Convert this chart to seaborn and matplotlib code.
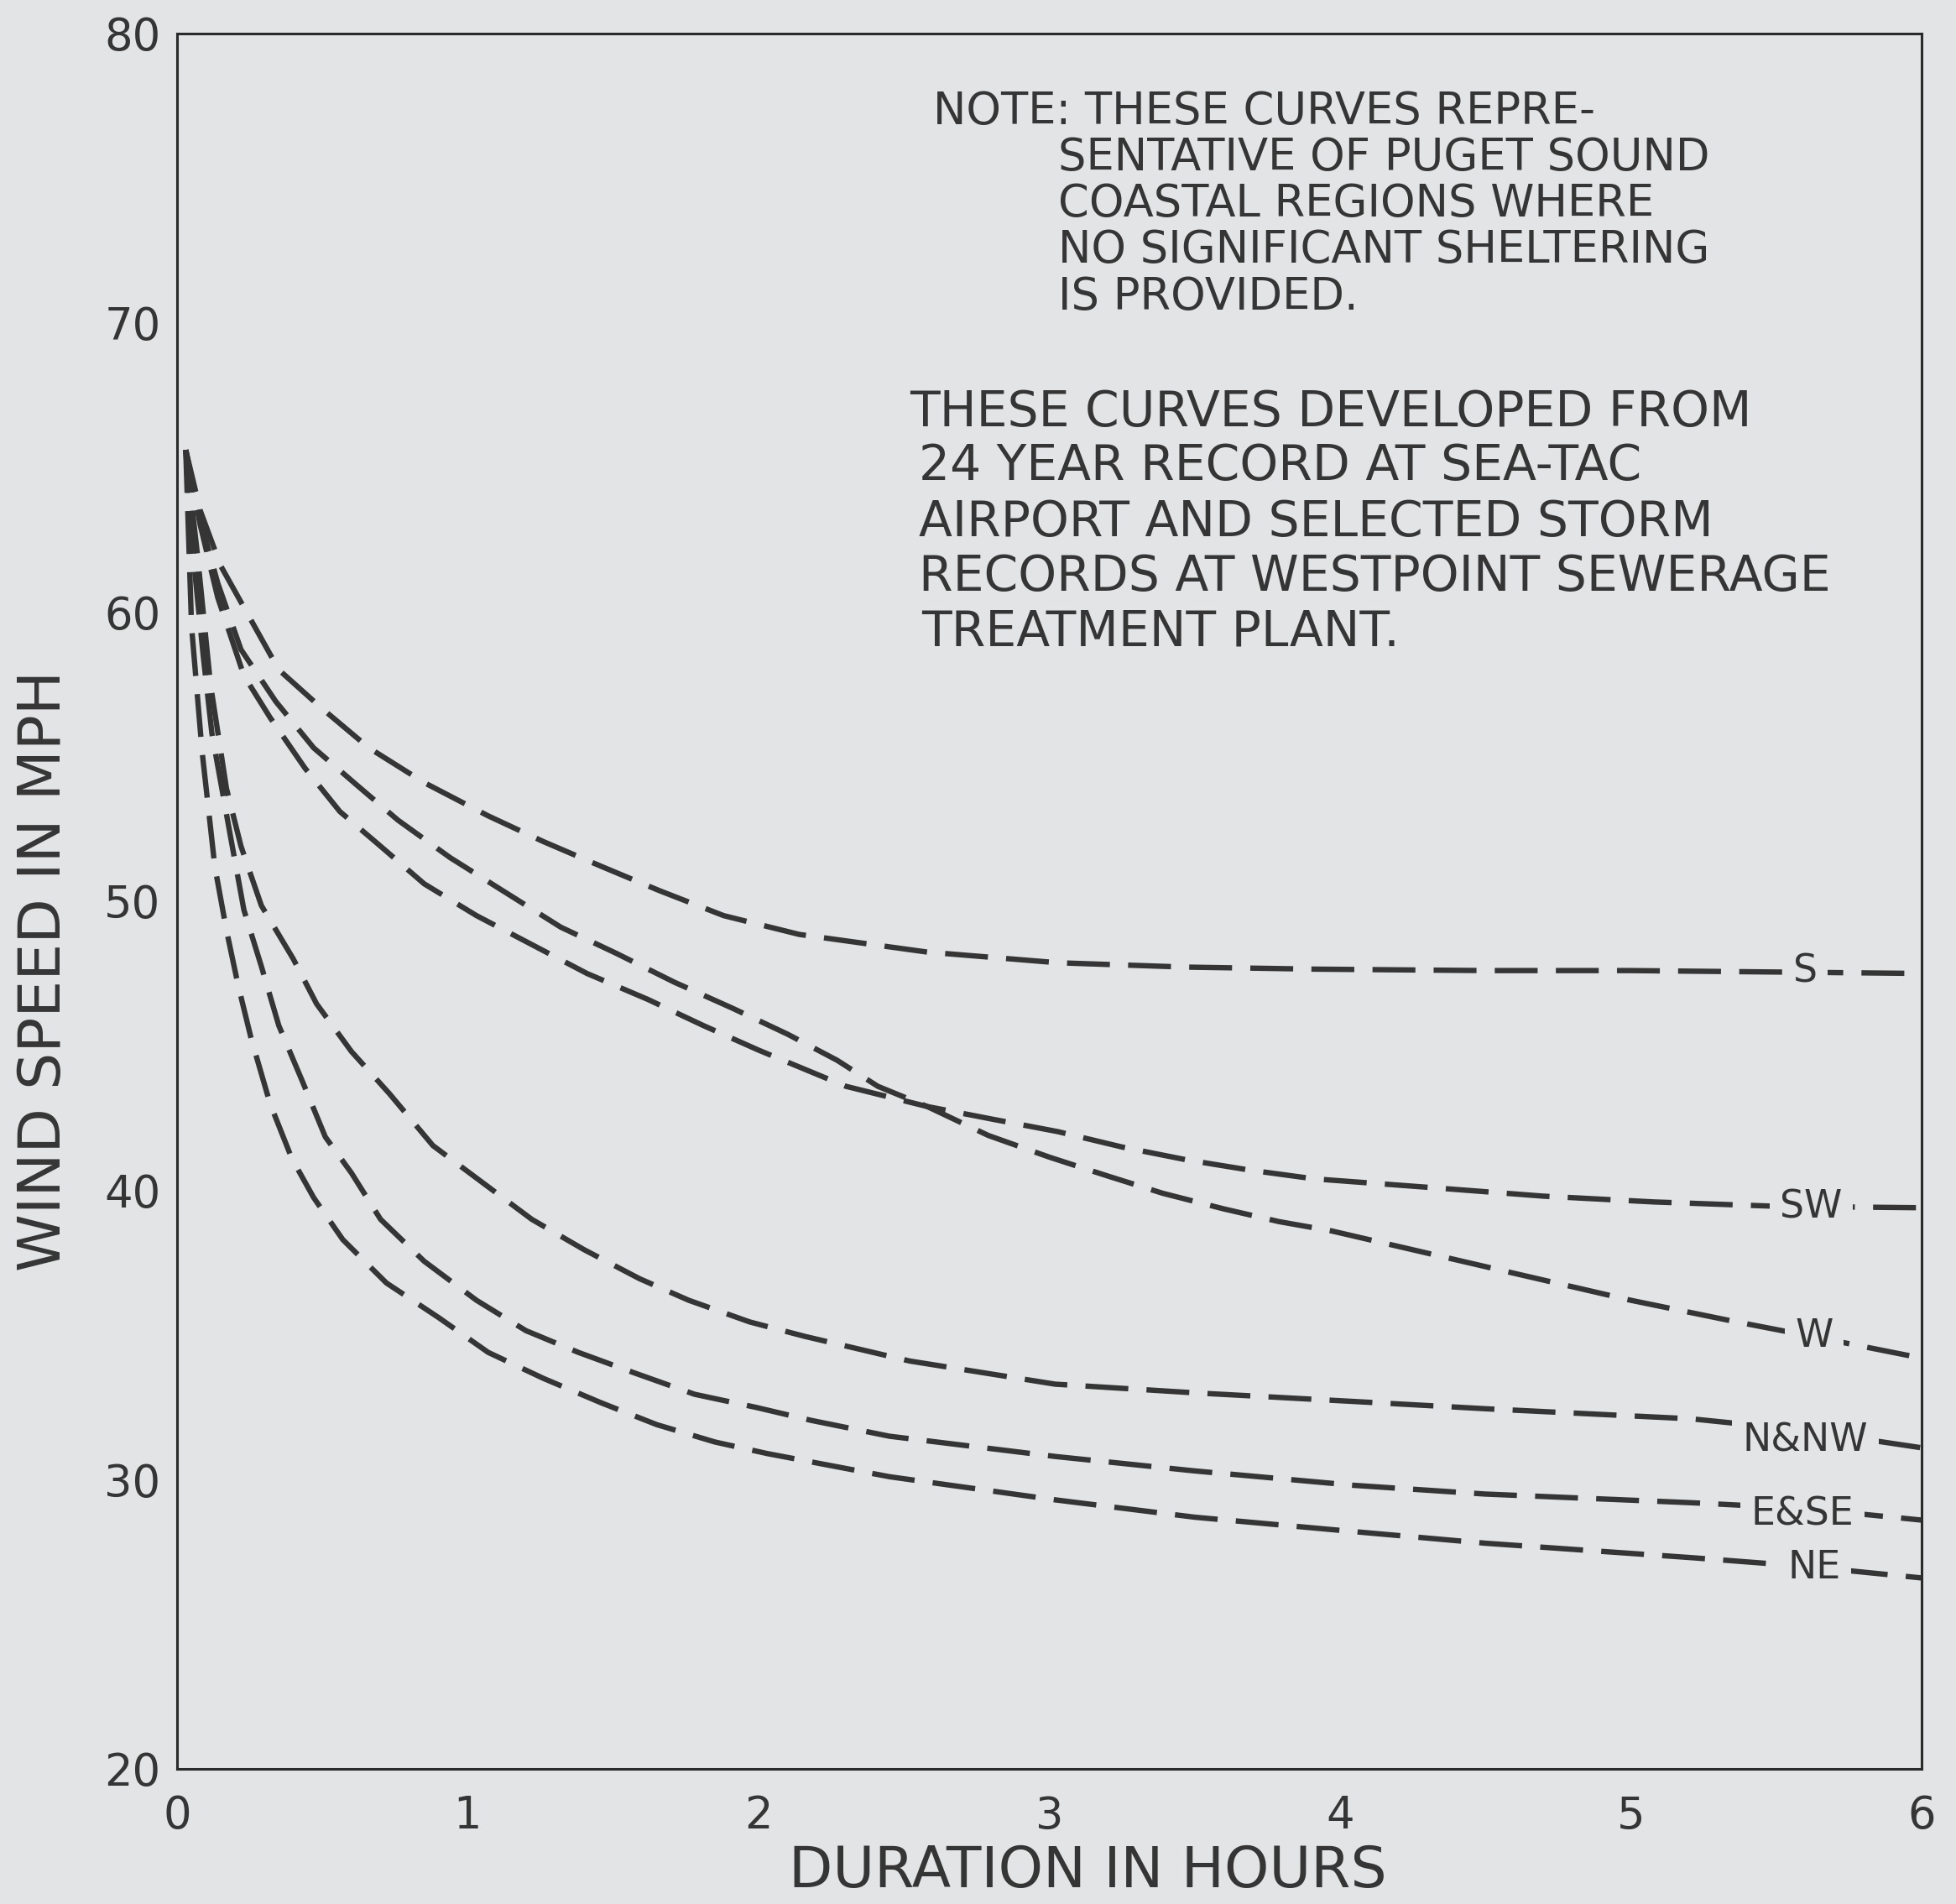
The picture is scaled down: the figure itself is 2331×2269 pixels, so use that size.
import numpy as np
import pandas as pd
import seaborn as sns
import matplotlib.pyplot as plt

# wind speed (mph) vs duration (hours)
s_x = [0.03, 0.08, 0.15, 0.25, 0.35, 0.5, 0.66, 0.85, 1.07, 1.26, 1.46, 1.66, 1.88, 2.14, 2.58, 3.03, 3.47, 3.91, 4.5, 5.0, 5.5, 6.0]
s_y = [65.6, 63.5, 61.6, 59.8, 58.0, 56.65, 55.3, 54.1, 52.95, 52.06, 51.2, 50.36, 49.5, 48.85, 48.24, 47.87, 47.72, 47.65, 47.6, 47.6, 47.55, 47.5]

sw_x = [0.03, 0.08, 0.14, 0.23, 0.32, 0.44, 0.56, 0.7, 0.85, 1.03, 1.22, 1.41, 1.62, 1.81, 2.0, 2.18, 2.3, 2.42, 2.58, 2.8, 3.03, 3.25, 3.47, 3.69, 3.91, 4.31, 4.7, 5.08, 5.5, 6.0]
sw_y = [65.6, 63.0, 60.5, 57.8, 56.35, 54.6, 53.1, 51.9, 50.6, 49.5, 48.5, 47.5, 46.6, 45.7, 44.85, 44.1, 43.6, 43.3, 42.9, 42.47, 42.03, 41.5, 41.06, 40.7, 40.4, 40.1, 39.8, 39.6, 39.45, 39.4]

w_x = [0.03, 0.08, 0.14, 0.22, 0.34, 0.47, 0.62, 0.76, 0.94, 1.13, 1.32, 1.51, 1.71, 1.91, 2.1, 2.27, 2.41, 2.58, 2.79, 3.0, 3.2, 3.39, 3.6, 3.79, 3.97, 4.57, 5.0, 5.34, 5.7, 6.0]
w_y = [65.6, 63.2, 61.0, 58.7, 56.9, 55.3, 54.0, 52.8, 51.5, 50.3, 49.1, 48.2, 47.2, 46.3, 45.4, 44.5, 43.6, 42.9, 41.9, 41.15, 40.5, 39.9, 39.36, 38.92, 38.6, 37.2, 36.2, 35.5, 34.8, 34.2]

nnw_x = [0.03, 0.07, 0.115, 0.17, 0.22, 0.29, 0.4, 0.48, 0.6, 0.73, 0.88, 1.06, 1.22, 1.4, 1.59, 1.76, 1.97, 2.16, 2.52, 3.02, 3.5, 4.05, 4.5, 5.21, 5.6, 6.0]
nnw_y = [65.6, 62.0, 57.5, 53.9, 51.9, 49.85, 48.0, 46.45, 44.8, 43.35, 41.55, 40.2, 39.0, 37.95, 36.95, 36.2, 35.45, 34.95, 34.1, 33.3, 33.0, 32.7, 32.45, 32.1, 31.7, 31.1]

ese_x = [0.03, 0.06, 0.09, 0.12, 0.19, 0.23, 0.29, 0.35, 0.43, 0.51, 0.6, 0.7, 0.85, 1.03, 1.2, 1.38, 1.57, 1.78, 1.99, 2.18, 2.45, 3.02, 3.5, 4.05, 4.5, 5.21, 5.6, 6.0]
ese_y = [65.6, 61.5, 58.5, 55.8, 51.9, 49.7, 47.75, 45.7, 43.8, 41.85, 40.6, 39.0, 37.55, 36.2, 35.15, 34.4, 33.7, 32.95, 32.5, 32.05, 31.5, 30.8, 30.3, 29.8, 29.5, 29.2, 29.0, 28.6]

ne_x = [0.03, 0.05, 0.086, 0.13, 0.17, 0.21, 0.255, 0.32, 0.395, 0.47, 0.57, 0.72, 0.9, 1.07, 1.26, 1.46, 1.65, 1.85, 2.03, 2.24, 2.45, 3.02, 3.5, 4.05, 4.5, 5.21, 5.6, 6.0]
ne_y = [65.6, 59.5, 55.2, 51.2, 49.0, 47.1, 45.25, 43.0, 41.1, 39.75, 38.3, 36.8, 35.6, 34.4, 33.5, 32.65, 31.9, 31.3, 30.9, 30.5, 30.1, 29.3, 28.7, 28.2, 27.8, 27.3, 27.0, 26.6]

curve_names = ["S", "SW", "W", "N&NW", "E&SE", "NE"]
label_x = [5.60, 5.62, 5.63, 5.60, 5.59, 5.63]
label_y = [47.55, 39.4, 34.95, 31.35, 28.8, 26.95]

x_ticks = [0, 1, 2, 3, 4, 5, 6]
y_ticks = [20, 30, 40, 50, 60, 70, 80]

note_lines = ["NOTE: THESE CURVES REPRE-",
              "SENTATIVE OF PUGET SOUND",
              "COASTAL REGIONS WHERE",
              "NO SIGNIFICANT SHELTERING",
              "IS PROVIDED."]
source_lines = ["THESE CURVES DEVELOPED FROM",
                "24 YEAR RECORD AT SEA-TAC",
                "AIRPORT AND SELECTED STORM",
                "RECORDS AT WESTPOINT SEWERAGE",
                "TREATMENT PLANT."]

bg = "#e3e4e6"
ink = "#353535"

sns.set_style("white")
plt.rcParams["font.family"] = ["DejaVu Sans"]

fig = plt.figure(figsize=(23.31, 22.69), dpi=100, facecolor=bg)
ax = fig.add_axes([0.0905, 0.0710, 0.8919, 0.9114])
ax.set_facecolor(bg)

series = [(s_x, s_y), (sw_x, sw_y), (w_x, w_y), (nnw_x, nnw_y), (ese_x, ese_y), (ne_x, ne_y)]
for name, (xs, ys) in zip(curve_names, series):
    df = pd.DataFrame({"hours": xs, "mph": ys})
    sns.lineplot(data=df, x="hours", y="mph", ax=ax, color=ink, linewidth=4.6, zorder=2)
    ax.lines[-1].set_dashes([8, 3.4])

for name, lx, ly in zip(curve_names, label_x, label_y):
    ax.text(lx, ly, name, fontsize=33, color=ink, ha="center", va="center", zorder=3,
            bbox=dict(facecolor=bg, edgecolor="none", pad=9))

# notes
note_x = [2.60, 3.03, 3.03, 3.03, 3.03]
note_y = [77.3, 75.7, 74.1, 72.5, 70.9]
for t, tx, ty in zip(note_lines, note_x, note_y):
    ax.text(tx, ty, t, fontsize=38, color=ink, ha="left", va="center")
src_x = [2.52, 2.55, 2.55, 2.55, 2.56]
src_y = [66.9, 65.05, 63.1, 61.2, 59.3]
for t, tx, ty in zip(source_lines, src_x, src_y):
    ax.text(tx, ty, t, fontsize=42, color=ink, ha="left", va="center")

ax.set_xlim(0, 6)
ax.set_ylim(20, 80)
ax.set_xticks(x_ticks)
ax.set_yticks(y_ticks)
ax.set_xticklabels([str(v) for v in x_ticks])
ax.set_yticklabels([str(v) for v in y_ticks])
ax.tick_params(axis="both", length=0, labelsize=38, colors=ink)
ax.tick_params(axis="x", pad=22)
ax.tick_params(axis="y", pad=14)
ax.set_xlabel("DURATION IN HOURS", fontsize=49, color=ink)
ax.set_ylabel("WIND SPEED IN MPH", fontsize=50, color=ink)
ax.xaxis.set_label_coords(0.522, -0.043)
ax.yaxis.set_label_coords(-0.060, 0.46)
for sp in ax.spines.values():
    sp.set_color("#2a2a2a")
    sp.set_linewidth(2.2)

fig.savefig("out.png", dpi=100, facecolor=bg)
